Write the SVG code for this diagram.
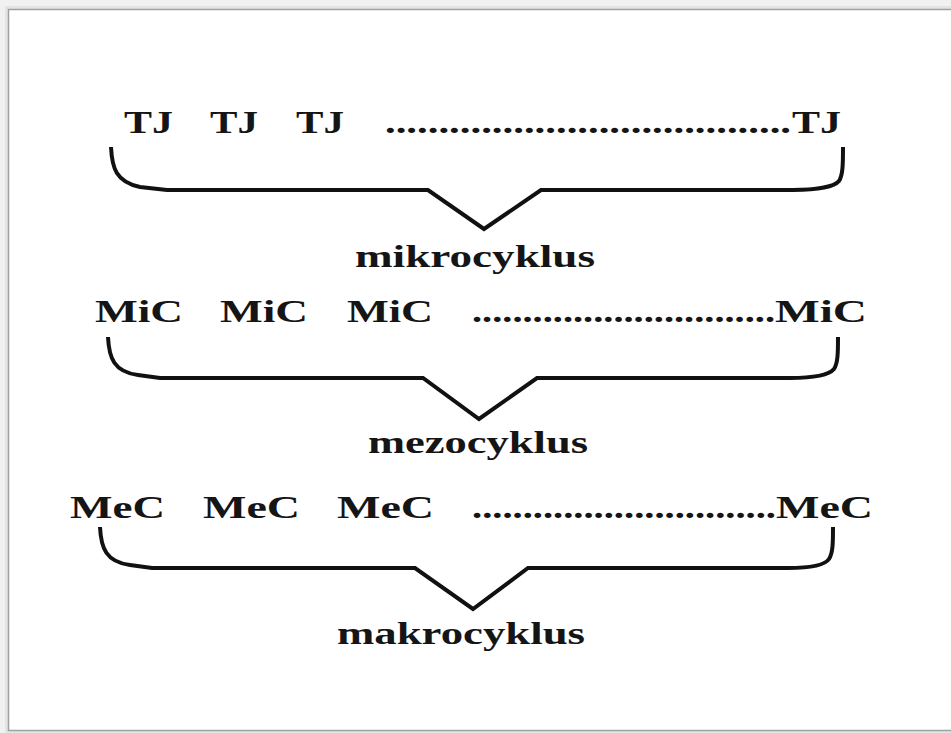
<svg xmlns="http://www.w3.org/2000/svg" width="951" height="733" viewBox="0 0 951 733">
  <defs>
    <style>
      .t { font-family: "Liberation Serif", "Times New Roman", serif; font-weight: bold; font-size: 32px; fill: #151515; }
      .lbl { font-family: "Liberation Serif", "Times New Roman", serif; font-weight: bold; font-size: 31px; fill: #151515; }
      .br { fill: none; stroke: #111; stroke-width: 4; stroke-linejoin: miter; stroke-linecap: butt; }
    </style>
  </defs>
  <rect x="0" y="0" width="951" height="733" fill="#f1f1f1"/>
  <rect x="5" y="6" width="950" height="728" fill="#e4e4e4"/>
  <rect x="8.5" y="9.5" width="950" height="721" fill="#ffffff" stroke="#a0a0a0" stroke-width="1.5"/>

  <g id="connectors">
    <path class="br" d="M111,147 C112,168 116,182 140,187 L167,190 L428,190 L484,229 L541,190 L793,190 C815,190 834,187 839,181 C843,175 843,163 843,147"/>
    <path class="br" d="M108,337 C109,358 114,372 138,375 L160,378 L423,378 L479,419 L537,378 L790,378 C812,378 829,375 834,369 C838,363 838,352 838,337"/>
    <path class="br" d="M100,527 C101,548 106,562 130,565 L152,568 L415,568 L473,609 L528,568 L788,568 C810,568 825,565 829,559 C833,553 833,542 833,527"/>
  </g>

  <g id="row-tj">
    <text class="t" x="124" y="133" textLength="49" lengthAdjust="spacingAndGlyphs">TJ</text>
    <text class="t" x="210" y="133" textLength="48" lengthAdjust="spacingAndGlyphs">TJ</text>
    <text class="t" x="296" y="133" textLength="48" lengthAdjust="spacingAndGlyphs">TJ</text>
    <text class="t" x="385" y="133" textLength="406" lengthAdjust="spacingAndGlyphs">......................................</text>
    <text class="t" x="792" y="133" textLength="49" lengthAdjust="spacingAndGlyphs">TJ</text>
  </g>
  <g id="label-mikrocyklus">
    <text class="lbl" x="355" y="267" textLength="240" lengthAdjust="spacingAndGlyphs">mikrocyklus</text>
  </g>

  <g id="row-mic">
    <text class="t" x="95" y="322" textLength="88" lengthAdjust="spacingAndGlyphs">MiC</text>
    <text class="t" x="220" y="322" textLength="88" lengthAdjust="spacingAndGlyphs">MiC</text>
    <text class="t" x="347" y="322" textLength="86" lengthAdjust="spacingAndGlyphs">MiC</text>
    <text class="t" x="472" y="322" textLength="303" lengthAdjust="spacingAndGlyphs">..............................</text>
    <text class="t" x="775" y="322" textLength="92" lengthAdjust="spacingAndGlyphs">MiC</text>
  </g>
  <g id="label-mezocyklus">
    <text class="lbl" x="368" y="453" textLength="220" lengthAdjust="spacingAndGlyphs">mezocyklus</text>
  </g>

  <g id="row-mec">
    <text class="t" x="70" y="518" textLength="95" lengthAdjust="spacingAndGlyphs">MeC</text>
    <text class="t" x="203" y="518" textLength="97" lengthAdjust="spacingAndGlyphs">MeC</text>
    <text class="t" x="337" y="518" textLength="97" lengthAdjust="spacingAndGlyphs">MeC</text>
    <text class="t" x="472" y="518" textLength="304" lengthAdjust="spacingAndGlyphs">..............................</text>
    <text class="t" x="776" y="518" textLength="97" lengthAdjust="spacingAndGlyphs">MeC</text>
  </g>
  <g id="label-makrocyklus">
    <text class="lbl" x="337" y="644" textLength="248" lengthAdjust="spacingAndGlyphs">makrocyklus</text>
  </g>
</svg>
